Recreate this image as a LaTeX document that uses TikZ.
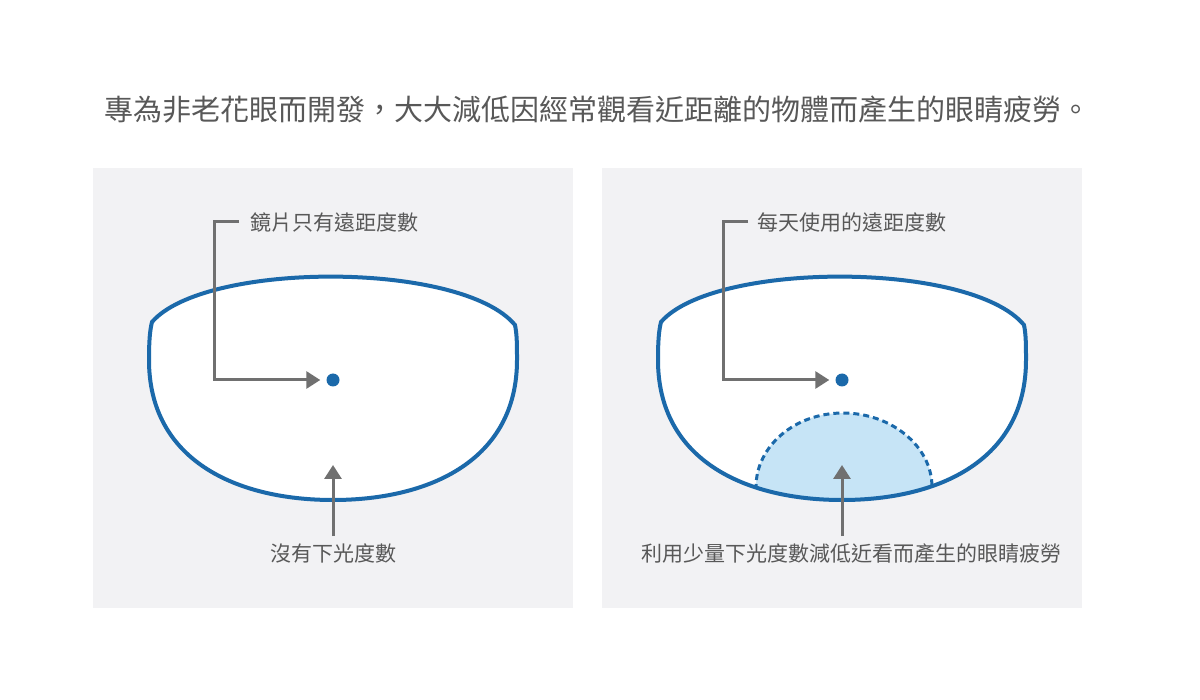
\documentclass[tikz,border=0pt]{standalone}
\usepackage{fontspec}
\setmainfont{Noto Sans CJK TC}
\usetikzlibrary{arrows.meta}

\definecolor{lensblue}{HTML}{1B69AA}
\definecolor{panelgray}{HTML}{F2F2F4}
\definecolor{arrowgray}{HTML}{707070}
\definecolor{textgray}{HTML}{585858}
\definecolor{nearblue}{HTML}{C6E4F6}

\tikzset{
  panel/.style={fill=panelgray},
  lensshape/.style={insert path={(152,322) .. controls (205,261) and (462,261) .. (515,325)
      .. controls (517,335) and (517,345) .. (517,360)
      .. controls (517,460) and (430,500) .. (333,500)
      .. controls (236,500) and (149,460) .. (149,360)
      .. controls (149,340) and (150,330) .. cycle}},
  lensline/.style={draw=lensblue, line width=4pt},
  centerdot/.style={circle, fill=lensblue, inner sep=0pt, minimum size=13pt},
  pointer/.style={draw=arrowgray, line width=3pt, -{Triangle[length=14pt,width=17pt]}},
  lenstext/.style={text=textgray, font=\fontsize{21}{25}\selectfont, inner sep=0pt},
  titletext/.style={text=textgray, font=\fontsize{29}{33}\selectfont, inner sep=0pt},
  dome/.style={draw=lensblue, line width=3pt, dash pattern=on 6pt off 4pt}
}

\begin{document}
\begin{tikzpicture}[x=1pt,y=-1pt]
   \fill [white] (0,0) rectangle (1200,700);
   \useasboundingbox (0,0) rectangle (1200,700);

   % title
   \node [titletext] (title) at (597,110) {專為非老花眼而開發，大大減低因經常觀看近距離的物體而產生的眼睛疲勞。};

   % left panel: single vision
   \fill [panel] (93,168) rectangle (573,608);
   \fill [white, lensshape];
   \draw [lensline, lensshape];
   \node [centerdot] (dotL) at (333,380) {};
   \node [lenstext] (farL) at (334,223) {鏡片只有遠距度數};
   \node [lenstext] (nearL) at (333,554) {沒有下光度數};
   \coordinate (stubL) at (239,222);
   \coordinate (baseL) at (333,536);
   \coordinate (tipL) at (333,465);
   \draw [pointer, shorten >=6pt] (stubL) -- (214,222) |- (dotL);
   \draw [pointer] (baseL) -- (tipL);

   % right panel: with near zone
   \fill [panel] (602,168) rectangle (1082,608);
   \begin{scope}[shift={(509,0)}]
      \fill [white, lensshape];
      \begin{scope}
         \clip [lensshape];
         \fill [nearblue] (247,510) -- (247,487) .. controls (247,446) and (286,413) .. (334,413)
               .. controls (382,413) and (423,446) .. (423,487) -- (423,510) -- cycle;
         \draw [dome] (247,510) -- (247,487) .. controls (247,446) and (286,413) .. (334,413)
               .. controls (382,413) and (423,446) .. (423,487) -- (423,510);
      \end{scope}
      \draw [lensline, lensshape];
      \node [centerdot] (dotR) at (333,380) {};
      \node [lenstext] (farR) at (343,223) {每天使用的遠距度數};
      \node [lenstext] (nearR) at (342,554) {利用少量下光度數減低近看而產生的眼睛疲勞};
      \coordinate (stubR) at (239,222);
      \coordinate (baseR) at (333,536);
      \coordinate (tipR) at (333,465);
      \draw [pointer, shorten >=6pt] (stubR) -- (214,222) |- (dotR);
      \draw [pointer] (baseR) -- (tipR);
   \end{scope}
\end{tikzpicture}
\end{document}
